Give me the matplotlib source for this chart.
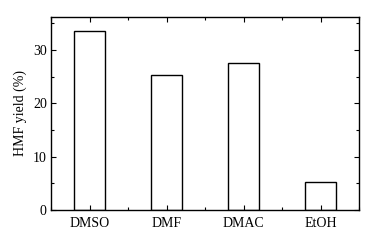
import matplotlib
matplotlib.use("Agg")
import matplotlib.pyplot as plt
import numpy as np
from matplotlib.ticker import MultipleLocator

solvents = ["DMSO", "DMF", "DMAC", "EtOH"]
yields = [33.5, 25.3, 27.6, 5.3]

plt.rcParams['font.family'] = ['Liberation Serif', 'DejaVu Serif']
plt.rcParams['font.size'] = 10

fig = plt.figure(figsize=(3.83, 2.4), dpi=100)
ax = fig.add_axes([51/383, 30/240, 308/383, 193/240])

x = np.arange(1, len(solvents) + 1)
ax.bar(x, yields, width=0.4, color="white", edgecolor="black", linewidth=1.0)

ax.set_xlim(0.5, 4.5)
ax.set_ylim(0, 36.2)
ax.set_xticks(x)
ax.set_xticklabels(solvents)
ax.xaxis.set_minor_locator(MultipleLocator(0.5))
ax.yaxis.set_major_locator(MultipleLocator(10))
ax.yaxis.set_minor_locator(MultipleLocator(5))
ax.tick_params(which="both", direction="in", top=True, right=True, width=0.8)
ax.tick_params(which="major", length=3.5, pad=3)
ax.tick_params(axis="x", which="major", pad=5)
ax.tick_params(which="minor", length=2)
for s in ax.spines.values():
    s.set_linewidth(1.0)

ax.set_ylabel("HMF yield (%)", labelpad=4)

fig.savefig("out.png", dpi=100)
